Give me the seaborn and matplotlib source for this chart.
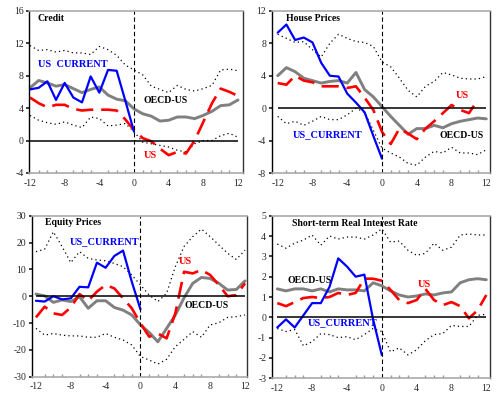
import numpy as np
import pandas as pd
import seaborn as sns
import matplotlib
matplotlib.use("Agg")
import matplotlib.pyplot as plt

sns.set_theme(style="white")
plt.rcParams['font.family'] = ['Liberation Serif', 'DejaVu Serif']
plt.rcParams['axes.unicode_minus'] = False

horizon = list(range(-12, 13))
pre = list(range(-12, 1))

# Credit
credit_us_current = [6.3, 6.5, 7.3, 5.0, 7.1, 5.3, 4.7, 7.9, 5.9, 8.7, 8.6, 4.9, 1.1]
credit_oecd_us = [6.5, 7.4, 7.1, 6.7, 6.9, 6.4, 5.9, 6.3, 6.6, 5.6, 5.1, 4.9, 3.9,
                  3.3, 3.0, 2.4, 2.5, 2.9, 2.9, 2.7, 3.1, 3.6, 4.3, 4.4, 5.0]
credit_us = [5.3, 4.6, 4.1, 4.4, 4.4, 3.9, 3.7, 3.8, 3.8, 3.8, 3.7, 2.6, 1.3,
             0.3, -0.1, -1.0, -1.8, -1.4, -1.6, 0.0, 2.3, 4.6, 6.4, 6.0, 5.5]
credit_upper = [11.7, 11.1, 11.2, 10.9, 11.1, 10.8, 10.8, 10.6, 11.6, 11.2, 10.5, 9.3, 8.7,
                8.1, 6.7, 6.3, 5.9, 6.8, 6.3, 6.1, 6.4, 6.8, 8.7, 8.8, 8.6]
credit_lower = [3.1, 2.5, 2.2, 2.0, 2.3, 1.9, 1.6, 2.9, 2.7, 1.8, 1.9, 2.1, 1.1,
                -0.2, -0.4, -0.6, -0.8, -1.2, -1.4, -0.4, 0.0, 0.0, 0.6, 0.9, 0.4]

# House prices
house_us_current = [9.3, 10.3, 8.4, 8.7, 8.1, 5.6, 4.0, 3.9, 1.8, 0.7, -0.5, -3.4, -6.2]
house_oecd_us = [4.0, 5.0, 4.5, 3.7, 3.4, 3.1, 3.3, 3.4, 3.1, 4.4, 2.3, 1.4, 0.2,
                 -1.0, -2.1, -3.2, -2.5, -2.5, -2.1, -2.4, -1.9, -1.6, -1.4, -1.2, -1.3]
house_us = [3.1, 2.9, 4.0, 3.4, 3.2, 2.7, 2.7, 2.7, 2.5, 2.7, 1.3, -0.2, -2.9,
            -4.4, -2.5, -3.1, -3.8, -2.5, -1.6, -0.6, 0.4, -0.2, -0.6, 1.0, np.nan]
house_upper = [9.1, 8.6, 8.1, 8.2, 7.2, 6.3, 8.0, 9.1, 8.6, 8.2, 8.1, 7.6, 5.7,
               5.1, 3.7, 2.2, 1.4, 2.7, 3.3, 4.4, 4.1, 3.7, 3.6, 3.6, 3.9]
house_lower = [-1.0, -1.9, -1.6, -2.1, -1.6, -1.0, -1.4, -1.4, -0.8, 0.0, -0.5, -2.7, -4.9,
               -5.5, -6.0, -6.8, -7.0, -6.0, -5.3, -5.5, -4.8, -5.5, -5.5, -5.7, -5.1]

# Equity prices
equity_us_current = [-1.7, -2.0, 0.0, -1.2, -0.8, 3.5, 3.3, 12.5, 10.6, 15.0, 17.0, 5.4, -4.9]
equity_oecd_us = [0.8, 0.1, -2.3, -1.4, -2.0, -0.2, -4.5, -1.7, -1.7, -4.2, -5.2, -7.0, -10.7,
                  -13.5, -17.0, -12.0, -7.0, -0.6, 4.8, 7.0, 6.6, 4.8, 2.3, 2.5, 5.7]
equity_us = [-7.9, -3.9, -6.4, -7.0, -4.2, 0.8, -1.7, 1.7, 4.2, 2.9, -0.8, -4.5, -10.1,
             -15.1, -13.9, -15.7, -6.4, 9.1, 8.5, 9.8, 7.9, 4.2, 0.0, 0.4, 4.8]
equity_upper = [16.6, 17.5, 24.0, 18.5, 12.5, 16.6, 14.1, 13.5, 13.2, 12.2, 11.0, 7.9, 4.2,
                0.4, -2.0, 1.1, 11.0, 18.5, 22.2, 25.0, 22.2, 19.1, 16.0, 13.7, 17.2]
equity_lower = [-12.0, -14.5, -13.9, -14.5, -14.8, -14.8, -15.3, -15.3, -13.9, -15.3, -16.3, -18.2, -22.5,
                -23.8, -25.3, -23.5, -18.8, -16.1, -13.2, -15.3, -10.7, -9.9, -7.9, -7.6, -7.0]

# Short-term real interest rate
rate_us_current = [-0.5, -0.1, -0.5, 0.1, 0.7, 0.7, 1.5, 2.9, 2.5, 2.0, 2.1, -0.1, -1.85]
rate_oecd_us = [1.4, 1.3, 1.4, 1.4, 1.3, 1.4, 1.25, 1.4, 1.35, 1.35, 1.3, 1.7, 1.55,
                1.3, 1.1, 1.0, 1.05, 1.15, 1.1, 1.2, 1.25, 1.7, 1.85, 1.9, 1.85]
rate_us = [0.7, 0.55, 0.75, 0.95, 1.0, 0.95, 1.0, 1.2, 1.1, 1.2, 1.9, 1.9, 1.8,
           1.35, 0.85, 0.7, 0.85, 1.4, 0.85, 0.6, 0.75, 0.55, -0.05, 0.35, 1.1]
rate_upper = [3.6, 3.4, 3.65, 3.8, 4.05, 3.55, 4.0, 3.85, 3.95, 3.95, 3.85, 4.05, 4.35,
              3.7, 3.75, 3.3, 3.05, 3.15, 3.65, 3.3, 3.45, 4.05, 4.1, 4.05, 4.05]
rate_lower = [-0.55, -0.7, -0.6, -1.4, -1.2, -0.8, -0.85, -1.0, -0.95, -1.1, -0.85, -0.55, -0.7,
              -1.7, -1.5, -1.85, -1.6, -1.15, -0.85, -0.8, -0.4, -0.45, -0.45, 0.1, 0.15]

panels = [
    dict(title="Credit", cur=credit_us_current, oecd=credit_oecd_us, us=credit_us,
         up=credit_upper, lo=credit_lower, ylim=(-4, 16), yticks=range(-4, 17, 4),
         xlim=(-12.06, 12.58), pos=[0.0591, 0.5686, 0.4279, 0.4047],
         title_xy=(-11.1, 15.0), cur_xy=(-11.1, 9.4), cur_text="US  CURRENT",
         oecd_xy=(1.1, 4.9), us_xy=(1.1, -1.8)),
    dict(title="House Prices", cur=house_us_current, oecd=house_oecd_us, us=house_us,
         up=house_upper, lo=house_lower, ylim=(-8, 12), yticks=range(-8, 13, 4),
         xlim=(-12.69, 12.39), pos=[0.5445, 0.5678, 0.4369, 0.4055],
         title_xy=(-11.1, 11.05), cur_xy=(-10.3, -3.2), cur_text="US_CURRENT",
         oecd_xy=(6.6, -3.3), us_xy=(8.5, 1.6)),
    dict(title="Equity Prices", cur=equity_us_current, oecd=equity_oecd_us, us=equity_us,
         up=equity_upper, lo=equity_lower, ylim=(-30, 30), yticks=range(-30, 31, 10),
         xlim=(-12.49, 12.23), pos=[0.0635, 0.0606, 0.4315, 0.4015],
         title_xy=(-11.0, 27.4), cur_xy=(-8.1, 20.3), cur_text="US_CURRENT",
         oecd_xy=(5.1, -3.3), us_xy=(4.4, 13.1)),
    dict(title="Short-term Real Interest Rate", cur=rate_us_current, oecd=rate_oecd_us, us=rate_us,
         up=rate_upper, lo=rate_lower, ylim=(-3, 5), yticks=range(-3, 6, 1),
         xlim=(-12.64, 12.39), pos=[0.5445, 0.0566, 0.4369, 0.4055],
         title_xy=(-10.35, 4.62), cur_xy=(-8.55, -0.26), cur_text="US_CURRENT",
         oecd_xy=(-10.85, 1.8), us_xy=(4.1, 1.6)),
]

fig = plt.figure(figsize=(4.99, 4.01), dpi=100)

for p in panels:
    ax = fig.add_axes(p["pos"])
    sns.lineplot(x=horizon, y=p["up"], ax=ax, color="black", lw=0.9, linestyle=(0, (1, 2.5)))
    sns.lineplot(x=horizon, y=p["lo"], ax=ax, color="black", lw=0.9, linestyle=(0, (1, 2.5)))
    sns.lineplot(x=horizon, y=p["oecd"], ax=ax, color="#808080", lw=2.1)
    sns.lineplot(x=horizon, y=p["us"], ax=ax, color="#ff0000", lw=1.9, linestyle=(0, (6.5, 3)))
    sns.lineplot(x=pre, y=p["cur"], ax=ax, color="#0000ff", lw=1.6)
    ax.hlines(0, -12, 12, color="black", lw=1.1)
    ax.axvline(0, color="black", lw=0.8, linestyle=(0, (4, 2.5)))

    ax.set_xlim(p["xlim"])
    ax.set_ylim(p["ylim"])
    ax.set_xticks(range(-12, 13, 4))
    ax.set_xticks(range(-12, 13), minor=True)
    ax.set_yticks(list(p["yticks"]))
    ax.tick_params(axis="x", which="major", direction="in", length=3, labelsize=7, pad=4, color="#999999")
    ax.tick_params(axis="x", which="minor", direction="in", length=2, color="#999999", bottom=True)
    ax.tick_params(axis="y", direction="out", length=2, labelsize=7, pad=2, left=True)

    for side in ["top", "bottom"]:
        ax.spines[side].set_color("#aaaaaa")
        ax.spines[side].set_linestyle((0, (1, 1)))
        ax.spines[side].set_linewidth(1.2)
    ax.spines["left"].set_color("black")
    ax.spines["right"].set_color("#333333")
    ax.spines["left"].set_linewidth(1.0)
    ax.spines["right"].set_linewidth(1.0)

    ax.text(*p["title_xy"], p["title"], fontsize=7, fontweight="bold", color="black", va="center", ha="left")
    ax.text(*p["cur_xy"], p["cur_text"], fontsize=7.5, fontweight="bold", color="#0000ff", va="center", ha="left")
    ax.text(*p["oecd_xy"], "OECD-US", fontsize=7, fontweight="bold", color="black", va="center", ha="left")
    ax.text(*p["us_xy"], "US", fontsize=7.5, fontweight="bold", color="#ff0000", va="center", ha="left")
    ax.set_xlabel("")
    ax.set_ylabel("")

fig.savefig("out.png", dpi=100)
